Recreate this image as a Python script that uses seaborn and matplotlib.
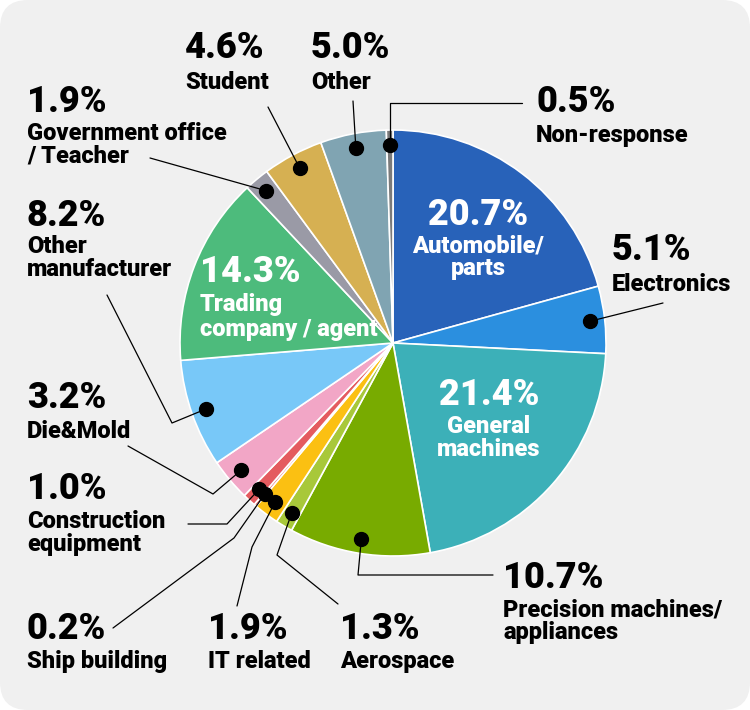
import matplotlib.pyplot as plt
import seaborn as sns
from matplotlib.patches import FancyBboxPatch
import numpy as np

# survey share by industry, clockwise from the top
sectors = ["Automobile/\nparts", "Electronics", "General\nmachines",
           "Precision machines/\nappliances", "Aerospace", "IT related",
           "Ship building", "Construction\nequipment", "Die&Mold",
           "Other\nmanufacturer", "Trading\ncompany / agent",
           "Government office\n/ Teacher", "Student", "Other", "Non-response"]
shares = [20.7, 5.1, 21.4, 10.7, 1.3, 1.9, 0.2, 1.0, 3.2, 8.2, 14.3, 1.9, 4.6, 5.0, 0.5]
colors = ["#2862b9", "#2b8fdf", "#3cb0b8", "#78ab00", "#a8c83a", "#fbc012",
          "#e25a5a", "#e45b5f", "#f2a6c6", "#78c8f8", "#4dbb7c", "#9a9aa6",
          "#d6b052", "#80a4b2", "#7a7a7a"]

# text anchor, baselines and leader line corners (pixels, y down)
layout = {
    0: dict(x=478, ha="center", base=225, lines=[252, 275], color="white"),
    1: dict(x=612, base=260, lines=[291], leader=[(663, 303)]),
    2: dict(x=489, ha="center", base=405, lines=[433, 456], color="white"),
    3: dict(x=503, base=588, lines=[616, 639], leader=[(493, 575), (358, 575)]),
    4: dict(x=340, base=639, lines=[668], leader=[(338, 604), (277, 555)]),
    5: dict(x=208, base=639, lines=[668], leader=[(237, 606), (252, 547)]),
    6: dict(x=27, base=639, lines=[668], leader=[(113, 628), (234, 538)]),
    7: dict(x=27, base=499, lines=[528, 551], leader=[(188, 524), (227, 524)]),
    8: dict(x=27, base=408, lines=[438], leader=[(128, 446), (213, 494)]),
    9: dict(x=27, base=226, lines=[253, 276], leader=[(107, 295), (172, 423)]),
    10: dict(x=200, base=282, lines=[311, 336], color="white"),
    11: dict(x=27, base=112, lines=[140, 163], leader=[(150, 158)]),
    12: dict(x=185, base=58, lines=[89], leader=[(268, 107)]),
    13: dict(x=311, base=58, lines=[89], leader=[(353, 101)]),
    14: dict(x=536, base=112, lines=[142], leader=[(522, 103), (None, 103)]),
}

sns.set_theme(style="white")
pct_font = ["DejaVu Sans Condensed", "Roboto", "DejaVu Sans"]
name_font = ["Roboto", "DejaVu Sans"]

fig = plt.figure(figsize=(7.5, 7.1), dpi=100)
fig.patch.set_facecolor("white")
ax = fig.add_axes([0, 0, 1, 1])

cx, cy, R = 393, 343, 213
# y axis is flipped below, so counterclockwise in data = clockwise on screen
wedges, _ = ax.pie(shares, colors=colors, startangle=-90, counterclock=True,
                   center=(cx, cy), radius=R,
                   wedgeprops=dict(edgecolor="white", linewidth=1.2))
ax.set_xlim(0, 750)
ax.set_ylim(710, 0)
ax.set_aspect("equal")
ax.axis("off")
ax.add_patch(FancyBboxPatch((0, 0), 750, 710, boxstyle="round,pad=0,rounding_size=28",
                            fc="#f0f0f0", ec="none", zorder=0))

for i, w in enumerate(wedges):
    lay = layout[i]
    col = lay.get("color", "black")
    ha = lay.get("ha", "left")
    ax.text(lay["x"], lay["base"], f"{shares[i]:.1f}%", ha=ha, va="baseline",
            fontsize=26, fontweight="heavy", color=col, family=pct_font, zorder=5)
    for txt, yb in zip(sectors[i].split("\n"), lay["lines"]):
        ax.text(lay["x"], yb, txt, ha=ha, va="baseline", fontsize=17,
                fontweight="heavy", color=col, family=name_font, zorder=5)
    if "leader" in lay:
        mid = np.deg2rad((w.theta1 + w.theta2) / 2)
        dx = cx + 0.93 * R * np.cos(mid)
        dy = cy + 0.93 * R * np.sin(mid)
        pts = [(dx if px is None else px, py) for px, py in lay["leader"]]
        pts.append((dx, dy))
        xs, ys = zip(*pts)
        ax.plot(xs, ys, color="black", lw=0.9, zorder=4)
        ax.plot(dx, dy, "o", color="black", ms=10, zorder=4)

fig.savefig("out.png", dpi=100, facecolor="white")
